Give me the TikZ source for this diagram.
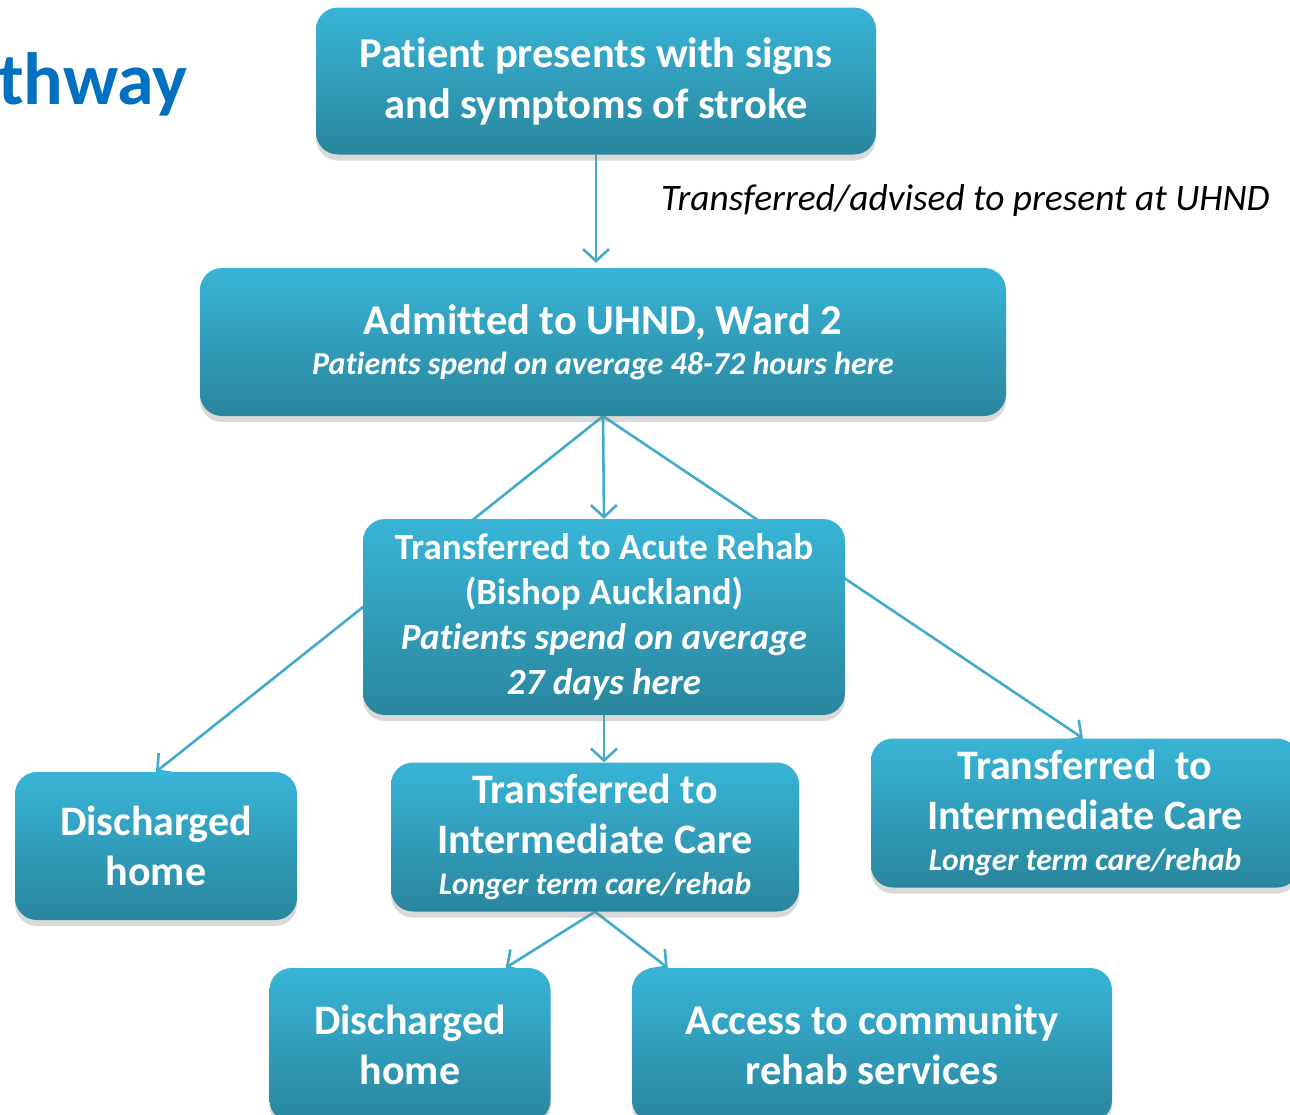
\documentclass[tikz,border=0pt]{standalone}
\usepackage{fontspec}
\setmainfont{Carlito}[Ligatures={NoCommon}]
\usetikzlibrary{positioning,shadows,arrows.meta}
\definecolor{boxtop}{HTML}{38B4D6}
\definecolor{boxbot}{HTML}{2A869E}
\definecolor{pfeilblau}{HTML}{42AACA}
\definecolor{titelblau}{HTML}{0070C0}
\pgfdeclarelayer{bg}
\pgfsetlayers{bg,main}

\begin{document}
\begin{tikzpicture}[x=1pt, y=-1pt,
	box/.style={rectangle, rounded corners=22pt, top color=boxtop, bottom color=boxbot,
		text=white, align=center, inner sep=0pt,
		drop shadow={shadow xshift=0pt, shadow yshift=-6pt, opacity=0.3}},
	pfeil/.style={pfeilblau, line width=2.6pt, -{Straight Barb[length=12pt, width=26pt]}},
	]
	
	\useasboundingbox (0,0) rectangle (1290,1114);
	
	% Titel (abgeschnitten)
	\node[anchor=base west, inner sep=0pt, text=titelblau, font=\fontsize{74}{80}\selectfont\bfseries] (titel) at (-2,104) {thway};
	
	% Kaesten
	\node[box, minimum width=560pt, minimum height=147pt, font=\fontsize{42.5}{51}\selectfont\bfseries] (patient) at (596,81)
		{Patient presents with signs\\and symptoms of stroke};
	\node[box, minimum width=806pt, minimum height=148pt, font=\fontsize{42.5}{44}\selectfont\bfseries] (ward) at (603,342)
		{Admitted to UHND, Ward 2\\[-4pt]{\fontsize{32}{34}\selectfont\itshape Patients spend on average 48-72 hours here}};
	\node[box, minimum width=482pt, minimum height=196pt, font=\fontsize{37}{45}\selectfont\bfseries] (rehab) at (604,617)
		{Transferred to Acute Rehab\\(Bishop Auckland)\\{\itshape Patients spend on average}\\{\itshape 27 days here}};
	\node[box, minimum width=282pt, minimum height=148pt, font=\fontsize{42}{50}\selectfont\bfseries] (homeA) at (156,846)
		{Discharged\\home};
	\node[box, minimum width=408pt, minimum height=149pt, font=\fontsize{42}{50}\selectfont\bfseries] (care) at (595,837)
		{Transferred to\\Intermediate Care\\[-9pt]{\fontsize{31.5}{34}\selectfont\itshape Longer term care/rehab}};
	\node[box, minimum width=428pt, minimum height=149pt, font=\fontsize{42}{50}\selectfont\bfseries] (careR) at (1085,813)
		{Transferred~ to\\Intermediate Care\\[-9pt]{\fontsize{31.5}{34}\selectfont\itshape Longer term care/rehab}};
	\node[box, minimum width=281pt, minimum height=154pt, font=\fontsize{42}{50}\selectfont\bfseries] (homeB) at (410,1045)
		{Discharged\\home};
	\node[box, minimum width=480pt, minimum height=154pt, font=\fontsize{42.5}{50}\selectfont\bfseries] (community) at (872,1045)
		{Access to community\\rehab services};
	
	% Beschriftung
	\node[anchor=west, inner sep=0pt, font=\fontsize{37.4}{40}\selectfont\itshape] (advised) at (661,201)
		{Transferred/advised to present at UHND};
	
	% Pfeile
	\begin{pgfonlayer}{bg}
		\draw[pfeil, shorten >=5pt] (patient.south) -- (patient.south |- ward.north);
		\draw[pfeil] (ward.south) -- (rehab.north);
		\draw[pfeil] (ward.south) -- (homeA.north);
		\draw[pfeil] (ward.south) -- ([xshift=-2pt]careR.north);
		\draw[pfeil] (rehab.south) -- (rehab.south |- care.north);
		\draw[pfeil] (care.south) -- ([xshift=-45pt]homeB.north east);
		\draw[pfeil] (care.south) -- ([xshift=36pt]community.north west);
	\end{pgfonlayer}
	
\end{tikzpicture}
\end{document}
